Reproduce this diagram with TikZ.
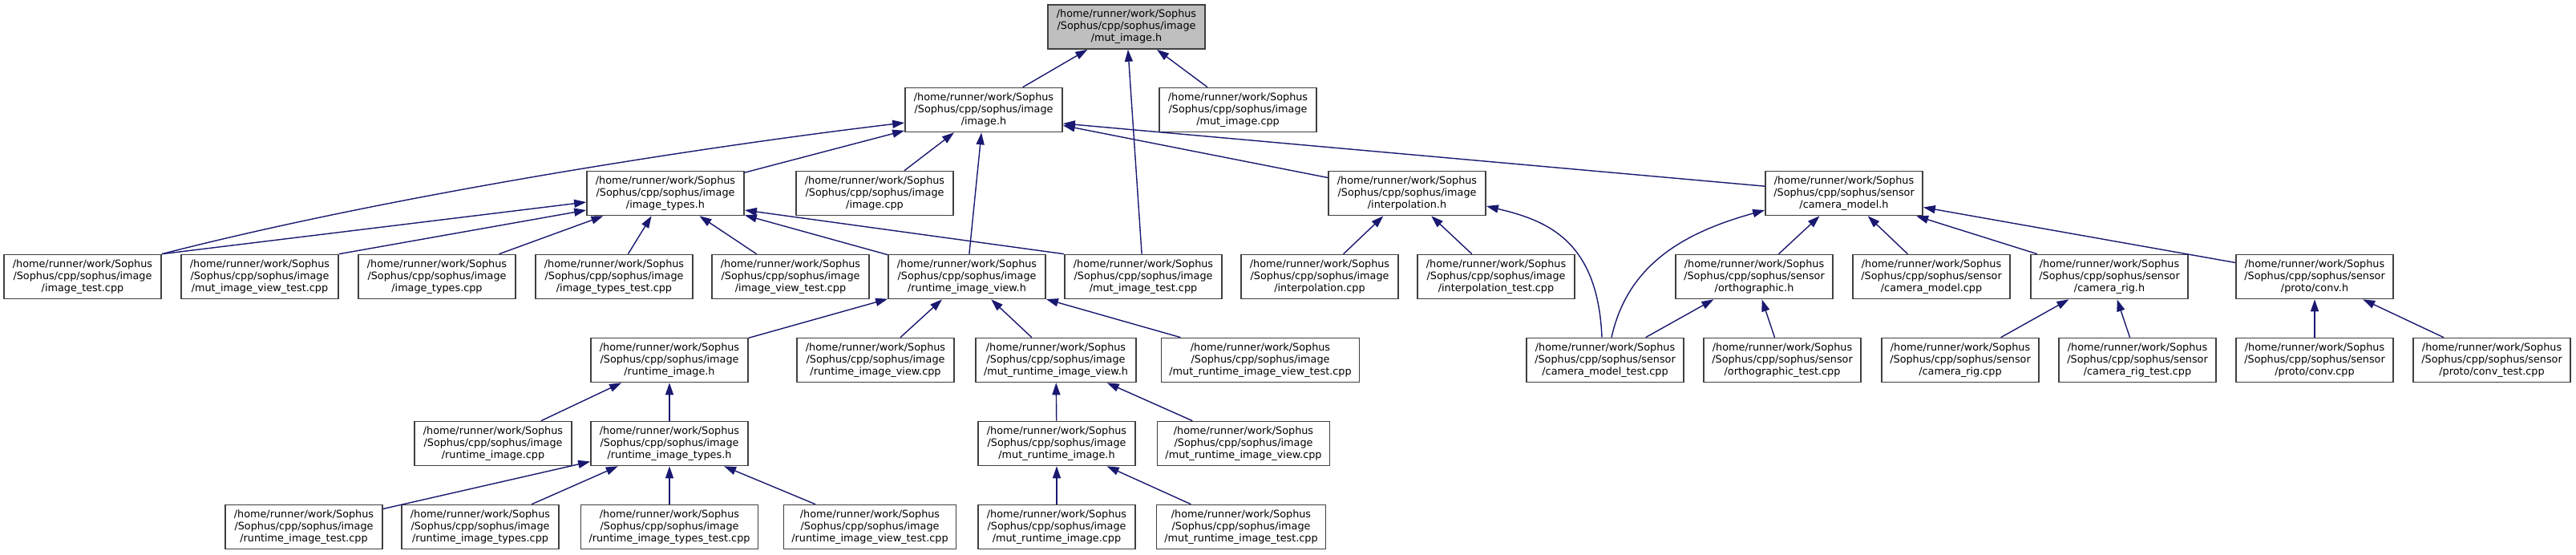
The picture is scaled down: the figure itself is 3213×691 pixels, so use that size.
\documentclass[tikz,border=0pt]{standalone}
\usepackage{fontspec}
\setmainfont{DejaVu Sans}
\usepackage{tikz}
\usetikzlibrary{arrows.meta}
\definecolor{EdgeBlue}{HTML}{191970}
\definecolor{BoxLine}{HTML}{404040}
\definecolor{RootFill}{HTML}{BFBFBF}
\newcommand{\imgdir}{/home/runner/work/Sophus\\/Sophus/cpp/sophus/image\\}
\newcommand{\sensdir}{/home/runner/work/Sophus\\/Sophus/cpp/sophus/sensor\\}

\begin{document}
\begin{tikzpicture}[
x=0.01cm, y=-0.01cm,
font=\fontsize{3.64}{4.27}\selectfont,
>={Triangle[length=0.15cm,width=0.1cm]},
filebox/.style={
draw=BoxLine,
line width=0.45pt,
fill=white,
minimum width=1.96cm,
minimum height=0.55cm,
inner xsep=0.1cm,
inner ysep=0pt,
align=center
},
rootbox/.style={
filebox,
fill=RootFill
},
dep/.style={
->,
draw=EdgeBlue,
line width=0.4pt
}
]
\useasboundingbox (0,0) rectangle (3213,691);

% Rows - one line of files per include level
\node[rootbox] (mutimgh) at (1405,33.5) {\imgdir/mut\_image.h};

\node[filebox] (imgh) at (1227,137) {\imgdir/image.h};
\node[filebox] (mutimgcpp) at (1544,137) {\imgdir/mut\_image.cpp};

\node[filebox] (imgtypesh) at (830,241) {\imgdir/image\_types.h};
\node[filebox] (imgcpp) at (1091,241) {\imgdir/image.cpp};
\node[filebox] (interph) at (1755,241) {\imgdir/interpolation.h};
\node[filebox] (cammodh) at (2300,241) {\sensdir/camera\_model.h};

\node[filebox] (imgtest) at (103,345) {\imgdir/image\_test.cpp};
\node[filebox] (mutimgviewtest) at (324,345) {\imgdir/mut\_image\_view\_test.cpp};
\node[filebox] (imgtypescpp) at (545,345) {\imgdir/image\_types.cpp};
\node[filebox] (imgtypestest) at (766,345) {\imgdir/image\_types\_test.cpp};
\node[filebox] (imgviewtest) at (986,345) {\imgdir/image\_view\_test.cpp};
\node[filebox] (rtimgviewh) at (1206,345) {\imgdir/runtime\_image\_view.h};
\node[filebox] (mutimgtest) at (1426,345) {\imgdir/mut\_image\_test.cpp};
\node[filebox] (interpcpp) at (1646,345) {\imgdir/interpolation.cpp};
\node[filebox] (interptest) at (1866,345) {\imgdir/interpolation\_test.cpp};
\node[filebox] (orthoh) at (2188,345) {\sensdir/orthographic.h};
\node[filebox] (cammodcpp) at (2409,345) {\sensdir/camera\_model.cpp};
\node[filebox] (camrigh) at (2631,345) {\sensdir/camera\_rig.h};
\node[filebox] (convh) at (2887,345) {\sensdir/proto/conv.h};

\node[filebox] (rtimgh) at (835,449) {\imgdir/runtime\_image.h};
\node[filebox] (rtimgviewcpp) at (1092,449) {\imgdir/runtime\_image\_view.cpp};
\node[filebox] (mutrtimgviewh) at (1317,449) {\imgdir/mut\_runtime\_image\_view.h};
\node[filebox] (mutrtimgviewtest) at (1572,449) {\imgdir/mut\_runtime\_image\_view\_test.cpp};
\node[filebox] (cammodtest) at (2002,449) {\sensdir/camera\_model\_test.cpp};
\node[filebox] (orthotest) at (2223,449) {\sensdir/orthographic\_test.cpp};
\node[filebox] (camrigcpp) at (2445,449) {\sensdir/camera\_rig.cpp};
\node[filebox] (camrigtest) at (2666,449) {\sensdir/camera\_rig\_test.cpp};
\node[filebox] (convcpp) at (2887,449) {\sensdir/proto/conv.cpp};
\node[filebox] (convtest) at (3108,449) {\sensdir/proto/conv\_test.cpp};

\node[filebox] (rtimgcpp) at (615,553) {\imgdir/runtime\_image.cpp};
\node[filebox] (rtimgtypesh) at (835,553) {\imgdir/runtime\_image\_types.h};
\node[filebox] (mutrtimgh) at (1318,553) {\imgdir/mut\_runtime\_image.h};
\node[filebox] (mutrtimgviewcpp) at (1551,553) {\imgdir/mut\_runtime\_image\_view.cpp};

\node[filebox] (rtimgtest) at (379,657) {\imgdir/runtime\_image\_test.cpp};
\node[filebox] (rtimgtypescpp) at (599,657) {\imgdir/runtime\_image\_types.cpp};
\node[filebox] (rtimgtypestest) at (835,657) {\imgdir/runtime\_image\_types\_test.cpp};
\node[filebox] (rtimgviewtest) at (1085,657) {\imgdir/runtime\_image\_view\_test.cpp};
\node[filebox] (mutrtimgcpp) at (1318,657) {\imgdir/mut\_runtime\_image.cpp};
\node[filebox] (mutrtimgtest) at (1548,657) {\imgdir/mut\_runtime\_image\_test.cpp};

% Include edges - arrow points at the included file
\draw[dep] (imgh) -- (mutimgh);
\draw[dep] (mutimgcpp) -- (mutimgh);
\draw[dep] (mutimgtest) -- (mutimgh);

\draw[dep] (imgtest.north east) .. controls (500,240) and (900,180) .. ([yshift=-0.16cm]imgh.west);
\draw[dep] (imgtypesh) -- (imgh);
\draw[dep] (imgcpp) -- (imgh);
\draw[dep] (rtimgviewh) -- (imgh);
\draw[dep] (interph) -- (imgh);
\draw[dep] (cammodh) -- ([yshift=-0.17cm]imgh.east);

\draw[dep] (imgtest.north east) -- ([yshift=-0.11cm]imgtypesh.west);
\draw[dep] (mutimgviewtest.north east) -- ([yshift=-0.21cm]imgtypesh.west);
\draw[dep] (imgtypescpp) -- (imgtypesh);
\draw[dep] (imgtypestest) -- (imgtypesh);
\draw[dep] (imgviewtest) -- (imgtypesh);
\draw[dep] (rtimgviewh) -- (imgtypesh);
\draw[dep] (mutimgtest.north west) -- ([yshift=-0.21cm]imgtypesh.east);

\draw[dep] (interpcpp) -- (interph);
\draw[dep] (interptest) -- (interph);
\draw[dep] ([xshift=-0.04cm]cammodtest.north) .. controls (1993,300) and (1930,275) .. ([yshift=-0.16cm]interph.east);

\draw[dep] ([xshift=0.08cm]cammodtest.north) .. controls (2030,330) and (2100,290) .. ([yshift=-0.21cm]cammodh.west);
\draw[dep] (orthoh) -- (cammodh);
\draw[dep] (cammodcpp) -- (cammodh);
\draw[dep] (camrigh) -- (cammodh);
\draw[dep] (convh) -- (cammodh);

\draw[dep] (cammodtest) -- (orthoh);
\draw[dep] (orthotest) -- (orthoh);
\draw[dep] (camrigcpp) -- (camrigh);
\draw[dep] (camrigtest) -- (camrigh);
\draw[dep] (convcpp) -- (convh);
\draw[dep] (convtest) -- (convh);

\draw[dep] (rtimgh) -- (rtimgviewh);
\draw[dep] (rtimgviewcpp) -- (rtimgviewh);
\draw[dep] (mutrtimgviewh) -- (rtimgviewh);
\draw[dep] (mutrtimgviewtest) -- (rtimgviewh);

\draw[dep] (rtimgcpp) -- (rtimgh);
\draw[dep] (rtimgtypesh) -- (rtimgh);
\draw[dep] (mutrtimgh) -- (mutrtimgviewh);
\draw[dep] (mutrtimgviewcpp) -- (mutrtimgviewh);

\draw[dep] (rtimgtest) -- (rtimgtypesh);
\draw[dep] (rtimgtypescpp) -- (rtimgtypesh);
\draw[dep] (rtimgtypestest) -- (rtimgtypesh);
\draw[dep] (rtimgviewtest) -- (rtimgtypesh);
\draw[dep] (mutrtimgcpp) -- (mutrtimgh);
\draw[dep] (mutrtimgtest) -- (mutrtimgh);

\end{tikzpicture}
\end{document}
